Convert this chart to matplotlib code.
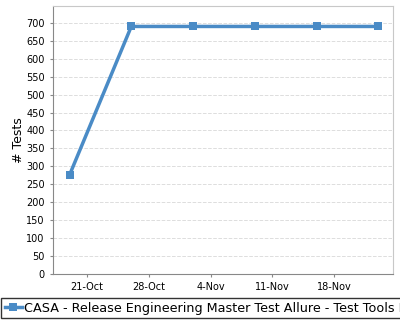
import matplotlib
matplotlib.use("Agg")
from matplotlib import pyplot as plt
import matplotlib.dates as mdates
import numpy as np
from datetime import datetime

# data
dates = ["2023-10-19", "2023-10-26", "2023-11-02", "2023-11-09", "2023-11-16", "2023-11-23"]
tests = [276, 690, 690, 690, 690, 690]
series_name = "CASA - Release Engineering Master Test Allure - Test Tools Master"
tick_dates = ["2023-10-21", "2023-10-28", "2023-11-04", "2023-11-11", "2023-11-18"]
yticks = list(range(0, 701, 50))

x = [datetime.strptime(d, "%Y-%m-%d") for d in dates]
xt = [datetime.strptime(d, "%Y-%m-%d") for d in tick_dates]

fig = plt.figure(figsize=(4, 3.2), dpi=100)
ax = fig.add_axes([0.1325, 0.14375, 0.85, 0.8375])

line, = ax.plot(x, tests, color="#4a8bc6", lw=2.5, marker="s", ms=5.5,
                markeredgewidth=0, label=series_name)

ax.set_xlim(datetime(2023, 10, 17, 3), datetime(2023, 11, 24, 16))
ax.set_ylim(0, 747)
ax.set_yticks(yticks)
ax.set_xticks(xt)
ax.xaxis.set_major_formatter(mdates.DateFormatter("%-d-%b"))
ax.tick_params(labelsize=7, colors="black", length=2.5, width=0.8)
ax.tick_params(axis="both", color="#888888")
ax.set_ylabel("# Tests", fontsize=9, labelpad=1)

ax.grid(axis="y", color="#dddddd", ls="--", lw=0.7)
ax.set_axisbelow(True)
for s in ["top", "right"]:
    ax.spines[s].set_color("#c8c8c8")
for s in ["left", "bottom"]:
    ax.spines[s].set_color("#888888")

# legend is wider than the figure in the reference too, so it gets clipped on the right
leg = fig.legend(handles=[line], loc="lower left", bbox_to_anchor=(0.0025, 0.005),
                 fontsize=9.2, frameon=True, fancybox=False, edgecolor="black",
                 handlelength=1.35, handletextpad=0.15, borderpad=0.3,
                 borderaxespad=0)
leg.get_frame().set_linewidth(1.0)

fig.savefig("out.png", dpi=100)
